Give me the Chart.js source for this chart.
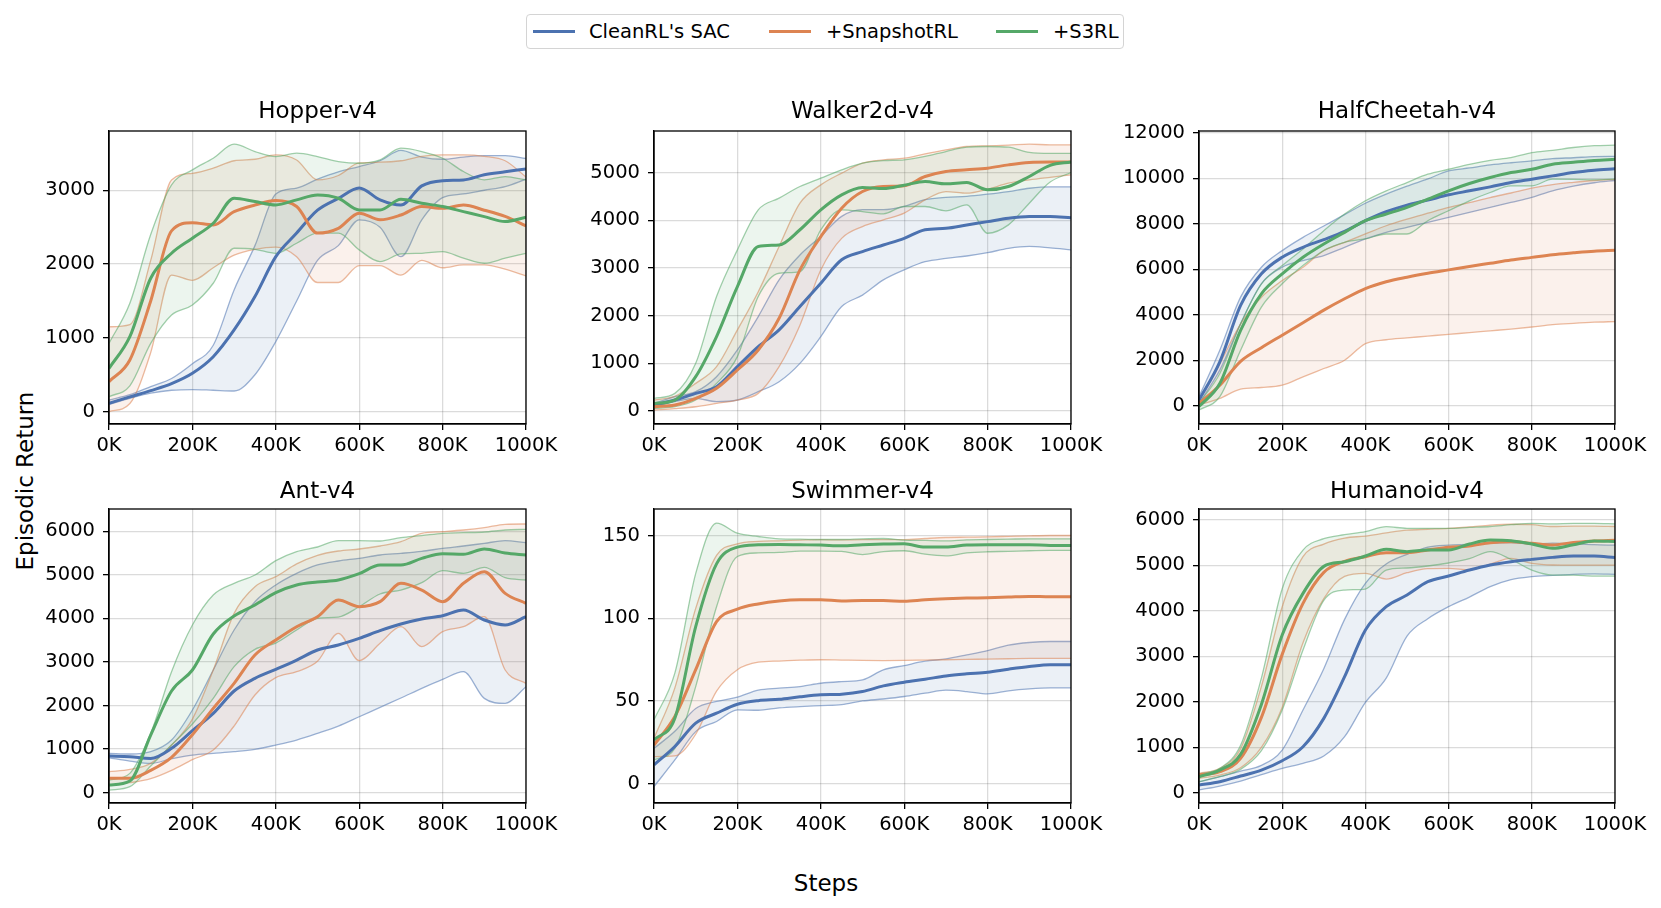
<!DOCTYPE html>
<html>
<head>
<meta charset="utf-8">
<title>Episodic return</title>
<script src="https://cdn.jsdelivr.net/npm/chart.js@4.4.1/dist/chart.umd.min.js"></script>
<style>
  body { margin: 0; background: #fff; font-family: "DejaVu Sans", sans-serif; }
  #fig { position: relative; width: 1661px; height: 908px; overflow: hidden; }
  .plot { position: absolute; }
  .title, .axlabel { position: absolute; font-size: 23px; color: #000; white-space: nowrap; transform: translate(-50%, -50%); }
  #ylabel { transform: translate(-50%, -50%) rotate(-90deg); }
  #legend { position: absolute; left: 526px; top: 14px; width: 596px; height: 33px; border: 1.5px solid #d4d4d4; border-radius: 4px; }
  #legend .swatch { position: absolute; top: 15px; width: 42px; height: 3px; }
  #legend .label { position: absolute; top: 5px; font-size: 19.5px; line-height: 23px; }
</style>
</head>
<body>
<div id="fig">
  <div id="legend"></div>
  <div class="axlabel" id="ylabel" style="left:25px; top:481px;">Episodic Return</div>
  <div class="axlabel" style="left:826px; top:883px;">Steps</div>
</div>
<script>
// x values (steps) shared by every curve
const steps = [0, 50000, 100000, 150000, 200000, 250000, 300000, 350000, 400000, 450000, 500000,
  550000, 600000, 650000, 700000, 750000, 800000, 850000, 900000, 950000, 1000000];
const xTicks = [0, 200000, 400000, 600000, 800000, 1000000];

const methods = ["CleanRL's SAC", "+SnapshotRL", "+S3RL"];

// Hopper-v4
const hopperTicks = [0, 1000, 2000, 3000];
const hopperSacMean = [113, 200, 285, 380, 520, 745, 1107, 1560, 2100, 2420, 2730, 2890, 3030, 2870, 2800, 3060, 3130, 3140, 3210, 3250, 3290];
const hopperSacHi = [158, 230, 340, 450, 650, 900, 1650, 2250, 2950, 3030, 3150, 3250, 3320, 3400, 3540, 3450, 3420, 3450, 3470, 3470, 3430];
const hopperSacLo = [100, 180, 250, 290, 300, 290, 280, 500, 950, 1500, 2050, 2250, 2600, 2500, 2100, 2600, 2900, 2950, 3000, 3050, 3150];
const hopperSnapMean = [407, 700, 1500, 2450, 2560, 2530, 2710, 2800, 2860, 2780, 2420, 2485, 2690, 2600, 2665, 2780, 2755, 2800, 2730, 2645, 2517];
const hopperSnapHi = [1150, 1180, 2050, 3140, 3230, 3300, 3400, 3420, 3480, 3410, 3140, 3200, 3370, 3380, 3400, 3460, 3480, 3480, 3460, 3400, 3180];
const hopperSnapLo = [0, 110, 800, 1850, 1780, 1950, 2120, 2200, 2230, 2100, 1750, 1750, 1980, 1980, 1850, 2050, 1950, 1990, 1990, 1930, 1840];
const hopperS3Mean = [587, 1017, 1808, 2146, 2350, 2553, 2892, 2847, 2802, 2870, 2937, 2892, 2734, 2734, 2878, 2824, 2779, 2711, 2643, 2576, 2634];
const hopperS3Hi = [926, 1470, 2400, 3073, 3276, 3434, 3624, 3525, 3457, 3502, 3457, 3389, 3366, 3412, 3570, 3525, 3434, 3254, 3140, 3186, 3140];
const hopperS3Lo = [203, 350, 926, 1310, 1446, 1740, 2214, 2200, 2146, 2282, 2418, 2418, 2192, 2033, 2137, 2146, 2169, 2079, 2011, 2079, 2146];

// Walker2d-v4
const walkerTicks = [0, 1000, 2000, 3000, 4000, 5000];
const walkerSacMean = [126, 230, 370, 510, 930, 1350, 1700, 2190, 2680, 3170, 3340, 3480, 3620, 3800, 3830, 3900, 3970, 4040, 4077, 4080, 4050];
const walkerSacHi = [160, 300, 405, 720, 1280, 1980, 2750, 3270, 3660, 4080, 4220, 4220, 4290, 4430, 4480, 4500, 4545, 4600, 4670, 4700, 4700];
const walkerSacLo = [90, 196, 266, 196, 231, 406, 615, 1000, 1560, 2190, 2430, 2750, 2960, 3130, 3200, 3250, 3320, 3410, 3450, 3420, 3380];
const walkerSnapMean = [90, 126, 266, 475, 860, 1280, 1944, 2958, 3657, 4252, 4601, 4706, 4720, 4916, 5021, 5056, 5091, 5160, 5210, 5220, 5220];
const walkerSnapHi = [230, 310, 580, 930, 1700, 2500, 3450, 4357, 4741, 4986, 5196, 5266, 5300, 5392, 5476, 5545, 5560, 5573, 5594, 5580, 5580];
const walkerSnapLo = [20, 50, 90, 160, 230, 370, 930, 1800, 2958, 3620, 3867, 4007, 4147, 4427, 4601, 4566, 4650, 4776, 4846, 4900, 4950];
const walkerS3Mean = [160, 230, 720, 1560, 2608, 3448, 3480, 3800, 4217, 4531, 4685, 4664, 4734, 4811, 4762, 4790, 4636, 4706, 4916, 5150, 5220];
const walkerS3Hi = [265, 370, 1000, 2400, 3378, 4217, 4462, 4706, 4881, 5056, 5196, 5250, 5266, 5336, 5440, 5530, 5545, 5530, 5420, 5400, 5400];
const walkerS3Lo = [55, 90, 230, 580, 1140, 2400, 2888, 2923, 3797, 4217, 4182, 4133, 4287, 4287, 4196, 4322, 3727, 3902, 4357, 4800, 5000];

// HalfCheetah-v4
const cheetahTicks = [0, 2000, 4000, 6000, 8000, 10000, 12000];
const cheetahSacMean = [248, 1927, 4409, 5796, 6526, 6964, 7299, 7664, 8131, 8525, 8818, 9036, 9270, 9445, 9620, 9810, 9956, 10102, 10250, 10350, 10420];
const cheetahSacHi = [400, 2438, 4774, 6088, 6818, 7401, 7900, 8400, 8900, 9300, 9650, 9970, 10321, 10450, 10584, 10680, 10759, 10861, 10900, 10950, 10960];
const cheetahSacLo = [100, 1562, 3606, 5358, 6088, 6380, 6599, 6964, 7329, 7620, 7839, 8058, 8277, 8496, 8715, 8934, 9153, 9445, 9650, 9800, 9900];
const cheetahSnapMean = [100, 900, 1950, 2550, 3100, 3650, 4200, 4700, 5150, 5450, 5650, 5820, 5970, 6120, 6260, 6400, 6520, 6640, 6720, 6790, 6830];
const cheetahSnapHi = [250, 1850, 3600, 4770, 5500, 6090, 6820, 7180, 7550, 7910, 8200, 8460, 8715, 8930, 9150, 9350, 9560, 9720, 9820, 9900, 9950];
const cheetahSnapLo = [30, 320, 730, 800, 900, 1270, 1635, 2000, 2730, 2900, 2980, 3060, 3140, 3210, 3290, 3370, 3460, 3560, 3620, 3670, 3700];
const cheetahS3Mean = [-40, 978, 3314, 4920, 5796, 6526, 7110, 7620, 8131, 8423, 8715, 9080, 9445, 9766, 10029, 10248, 10394, 10613, 10700, 10780, 10830];
const cheetahS3Hi = [100, 1416, 3606, 5358, 6161, 6891, 7693, 8423, 9007, 9445, 9810, 10175, 10394, 10613, 10788, 10905, 11124, 11226, 11350, 11430, 11450];
const cheetahS3Lo = [-190, 394, 2438, 4336, 5358, 6161, 6818, 7183, 7329, 7548, 7548, 8131, 8569, 9007, 9372, 9664, 9664, 9956, 9950, 9930, 9960];

// Ant-v4
const antTicks = [0, 1000, 2000, 3000, 4000, 5000, 6000];
const antSacMean = [842, 826, 788, 1018, 1423, 1821, 2334, 2624, 2831, 3045, 3275, 3390, 3542, 3718, 3871, 3986, 4063, 4193, 3963, 3848, 4040];
const antSacHi = [900, 888, 941, 1209, 1898, 2816, 3734, 4384, 4767, 5034, 5226, 5318, 5379, 5455, 5494, 5540, 5608, 5662, 5723, 5784, 5738];
const antSacLo = [800, 727, 673, 780, 865, 903, 941, 995, 1094, 1209, 1362, 1530, 1744, 1959, 2173, 2395, 2601, 2777, 2165, 2050, 2433];
const antSnapMean = [330, 330, 513, 811, 1331, 1936, 2510, 3160, 3504, 3810, 4040, 4420, 4270, 4384, 4805, 4652, 4384, 4805, 5073, 4575, 4346];
const antSnapHi = [482, 536, 673, 1094, 1690, 2816, 4116, 4728, 4958, 5250, 5448, 5547, 5593, 5662, 5761, 5953, 5991, 6029, 6083, 6160, 6167];
const antSnapLo = [176, 230, 321, 513, 758, 980, 1530, 2242, 2640, 2777, 3015, 3657, 3030, 3428, 3810, 3351, 3695, 3810, 4040, 2816, 2510];
const antS3Mean = [176, 268, 1324, 2334, 2816, 3642, 4055, 4308, 4591, 4767, 4835, 4881, 5027, 5226, 5226, 5379, 5486, 5471, 5593, 5501, 5455];
const antS3Hi = [290, 444, 1362, 2777, 3848, 4537, 4805, 4996, 5325, 5532, 5639, 5784, 5784, 5777, 5853, 5899, 5953, 5968, 5983, 6029, 6044];
const antS3Lo = [60, 138, 612, 1094, 1576, 2165, 2892, 3290, 3435, 3734, 4002, 4032, 4269, 4560, 4652, 4820, 5096, 5034, 5172, 4935, 4881];

// Swimmer-v4
const swimTicks = [0, 50, 100, 150];
const swimSacMean = [11.5, 22.6, 36.7, 42.7, 48.1, 50.3, 51.1, 52.6, 53.8, 54.2, 55.8, 59.2, 61.4, 63.2, 65.2, 66.5, 67.5, 69.3, 70.9, 72, 72];
const swimSacHi = [21.5, 31.8, 45.5, 49.8, 52.4, 56.6, 57.8, 58.8, 60.8, 61.8, 62.8, 68.9, 71.5, 74.1, 75.5, 77.9, 80.5, 83.8, 85.4, 86, 86];
const swimSacLo = [-1.6, 14.5, 31.6, 37.7, 44.7, 44.5, 45.9, 46.7, 47.3, 47.9, 50.1, 51.3, 52.8, 54.8, 56.6, 55.8, 54.4, 56.2, 57.4, 58, 58];
const swimSnapMean = [23.5, 40.7, 69, 98, 105.5, 108.7, 110.5, 111.2, 111.2, 110.5, 110.7, 110.7, 110.3, 111.2, 111.8, 112.2, 112.4, 112.8, 113.2, 113, 113];
const swimSnapHi = [27.6, 58, 106, 138, 145, 146.5, 146.8, 147.2, 147.5, 147.3, 147.5, 147.5, 147.5, 148.2, 148.8, 149, 149.2, 149.5, 149.8, 150, 150];
const swimSnapLo = [16.5, 16.9, 30, 56, 69, 73.5, 74.2, 74.7, 75, 74.8, 74.6, 74.5, 74.6, 74.8, 75, 75.2, 75.4, 75.6, 75.8, 75.8, 75.8];
const swimS3Mean = [26.6, 39.7, 95, 132.9, 143, 144.4, 144.6, 144.4, 144.2, 143.8, 144.4, 144.8, 145, 143, 143, 144.2, 144.4, 144.4, 144.4, 144, 144];
const swimS3Hi = [38.7, 66.9, 127, 157.5, 151.4, 149.4, 148, 147.8, 147.6, 147.6, 148, 148.2, 147.2, 147, 146.8, 147.4, 147.6, 147.8, 148, 148, 148];
const swimS3Lo = [14.5, 21.5, 58.8, 107, 137.3, 139.5, 139.8, 140.6, 140.6, 140.4, 138.5, 140.3, 140.8, 138.7, 137.7, 139.5, 140.2, 140.4, 140.8, 141, 141];

// Humanoid-v4
const humTicks = [0, 1000, 2000, 3000, 4000, 5000, 6000];
const humSacMean = [168, 242, 366, 498, 703, 1011, 1634, 2549, 3575, 4088, 4344, 4637, 4762, 4894, 5004, 5077, 5128, 5172, 5200, 5200, 5170];
const humSacHi = [242, 352, 476, 601, 938, 1817, 2725, 3810, 4601, 5026, 5238, 5399, 5443, 5458, 5480, 5495, 5465, 5487, 5470, 5450, 5440];
const humSacLo = [60, 147, 256, 396, 535, 645, 806, 1231, 1985, 2520, 3443, 3824, 4088, 4300, 4527, 4681, 4747, 4777, 4800, 4810, 4800];
const humSnapMean = [388, 462, 755, 1656, 3040, 4161, 4842, 5084, 5187, 5275, 5275, 5333, 5392, 5421, 5495, 5516, 5480, 5443, 5500, 5530, 5550];
const humSnapHi = [425, 535, 967, 2337, 4088, 5187, 5465, 5597, 5640, 5710, 5770, 5790, 5810, 5840, 5880, 5900, 5890, 5850, 5860, 5860, 5850];
const humSnapLo = [315, 388, 549, 996, 1875, 3297, 4264, 4755, 4821, 4696, 4835, 4923, 4930, 4894, 5026, 5150, 5040, 5004, 5000, 5000, 5000];
const humS3Mean = [352, 498, 842, 1941, 3465, 4381, 4974, 5077, 5201, 5348, 5297, 5333, 5333, 5465, 5553, 5538, 5465, 5370, 5450, 5530, 5520];
const humS3Hi = [410, 535, 1040, 2520, 4484, 5333, 5582, 5670, 5736, 5846, 5810, 5810, 5810, 5830, 5850, 5890, 5920, 5910, 5920, 5920, 5910];
const humS3Lo = [240, 352, 513, 923, 1817, 3136, 4227, 4454, 4476, 4894, 4938, 4982, 5048, 5143, 5297, 5128, 4894, 4784, 4780, 4760, 4760];

// ---- styling / layout ----
const lineColors = ['#4c72b0', '#dd8452', '#55a868'];
const edgeColors = ['rgba(76,114,176,0.55)', 'rgba(221,132,82,0.55)', 'rgba(85,168,104,0.55)'];
const fillColors = ['rgba(76,114,176,0.11)', 'rgba(221,132,82,0.11)', 'rgba(85,168,104,0.11)'];

const colLeft = [109, 654, 1199];
const colWidth = [417, 417, 416];
const rowTop = [131, 509];
const rowHeight = [293, 294];
const titleY = [110, 490];

const panels = [
  { title: 'Hopper-v4', row: 0, col: 0, yMin: -167, yMax: 3803, yTicks: hopperTicks,
    series: [[hopperSacMean, hopperSacHi, hopperSacLo], [hopperSnapMean, hopperSnapHi, hopperSnapLo], [hopperS3Mean, hopperS3Hi, hopperS3Lo]] },
  { title: 'Walker2d-v4', row: 0, col: 1, yMin: -272, yMax: 5870, yTicks: walkerTicks,
    series: [[walkerSacMean, walkerSacHi, walkerSacLo], [walkerSnapMean, walkerSnapHi, walkerSnapLo], [walkerS3Mean, walkerS3Hi, walkerS3Lo]] },
  { title: 'HalfCheetah-v4', row: 0, col: 2, yMin: -804, yMax: 12075, yTicks: cheetahTicks,
    series: [[cheetahSacMean, cheetahSacHi, cheetahSacLo], [cheetahSnapMean, cheetahSnapHi, cheetahSnapLo], [cheetahS3Mean, cheetahS3Hi, cheetahS3Lo]] },
  { title: 'Ant-v4', row: 1, col: 0, yMin: -236, yMax: 6511, yTicks: antTicks,
    series: [[antSacMean, antSacHi, antSacLo], [antSnapMean, antSnapHi, antSnapLo], [antS3Mean, antS3Hi, antS3Lo]] },
  { title: 'Swimmer-v4', row: 1, col: 1, yMin: -11.5, yMax: 166, yTicks: swimTicks,
    series: [[swimSacMean, swimSacHi, swimSacLo], [swimSnapMean, swimSnapHi, swimSnapLo], [swimS3Mean, swimS3Hi, swimS3Lo]] },
  { title: 'Humanoid-v4', row: 1, col: 2, yMin: -226, yMax: 6235, yTicks: humTicks,
    series: [[humSacMean, humSacHi, humSacLo], [humSnapMean, humSnapHi, humSnapLo], [humS3Mean, humS3Hi, humS3Lo]] }
];

Chart.defaults.font.family = '"DejaVu Sans", sans-serif';
Chart.defaults.font.size = 19.5;
Chart.defaults.color = '#000';

// box around the axes like matplotlib spines
const framePlugin = {
  id: 'frame',
  afterDraw(chart) {
    const a = chart.chartArea, ctx = chart.ctx;
    ctx.save();
    ctx.strokeStyle = '#000';
    ctx.lineWidth = 1.3;
    ctx.strokeRect(a.left, a.top, a.right - a.left, a.bottom - a.top);
    ctx.restore();
  }
};

const fig = document.getElementById('fig');
const padL = 100, padT = 20, padR = 40, padB = 50;

function toPoints(values) {
  return steps.map((s, k) => ({ x: s, y: values[k] }));
}

panels.forEach(function (p) {
  const axLeft = colLeft[p.col], axTop = rowTop[p.row];
  const w = colWidth[p.col], h = rowHeight[p.row];

  const canvas = document.createElement('canvas');
  canvas.className = 'plot';
  canvas.style.left = (axLeft - padL) + 'px';
  canvas.style.top = (axTop - padT) + 'px';
  canvas.style.width = (w + padL + padR) + 'px';
  canvas.style.height = (h + padT + padB) + 'px';
  canvas.width = w + padL + padR;
  canvas.height = h + padT + padB;
  fig.appendChild(canvas);

  const title = document.createElement('div');
  title.className = 'title';
  title.textContent = p.title;
  title.style.left = (axLeft + w / 2) + 'px';
  title.style.top = titleY[p.row] + 'px';
  fig.appendChild(title);

  const datasets = [];
  p.series.forEach(function (s, i) {
    const [mean, hi, lo] = s;
    datasets.push({
      label: methods[i] + ' upper', data: toPoints(hi), fill: '+1',
      backgroundColor: fillColors[i], borderColor: edgeColors[i], borderWidth: 1.3,
      pointRadius: 0, cubicInterpolationMode: 'monotone', order: 5 - i
    });
    datasets.push({
      label: methods[i] + ' lower', data: toPoints(lo), fill: false,
      borderColor: edgeColors[i], borderWidth: 1.3,
      pointRadius: 0, cubicInterpolationMode: 'monotone', order: 5 - i
    });
    datasets.push({
      label: methods[i], data: toPoints(mean), fill: false,
      borderColor: lineColors[i], borderWidth: 3,
      pointRadius: 0, cubicInterpolationMode: 'monotone', order: 2 - i
    });
  });

  new Chart(canvas, {
    type: 'line',
    data: { datasets: datasets },
    options: {
      responsive: false,
      animation: false,
      layout: { padding: { left: 0, top: padT, right: padR, bottom: 0 } },
      plugins: { legend: { display: false }, tooltip: { enabled: false } },
      scales: {
        x: {
          type: 'linear', min: 0, max: 1000000,
          afterBuildTicks: (axis) => { axis.ticks = xTicks.map(v => ({ value: v })); },
          afterFit: (scale) => { scale.height = padB; },
          ticks: { maxRotation: 0, autoSkip: false, padding: 4, callback: v => (v / 1000) + 'K' },
          grid: { color: 'rgba(0,0,0,0.14)', lineWidth: 1.3, tickColor: '#000', tickLength: 6, tickWidth: 1.3 },
          border: { color: '#000', width: 1.3 }
        },
        y: {
          type: 'linear', min: p.yMin, max: p.yMax,
          afterBuildTicks: (axis) => { axis.ticks = p.yTicks.map(v => ({ value: v })); },
          afterFit: (scale) => { scale.width = padL; },
          ticks: { padding: 8, autoSkip: false, callback: v => String(v) },
          grid: { color: 'rgba(0,0,0,0.14)', lineWidth: 1.3, tickColor: '#000', tickLength: 6, tickWidth: 1.3 },
          border: { color: '#000', width: 1.3 }
        }
      }
    },
    plugins: [framePlugin]
  });
});

// legend at the top
const legend = document.getElementById('legend');
const swatchX = [6, 242, 469];
const labelX = [62, 299, 526];
methods.forEach(function (m, i) {
  const sw = document.createElement('div');
  sw.className = 'swatch';
  sw.style.left = swatchX[i] + 'px';
  sw.style.background = lineColors[i];
  legend.appendChild(sw);
  const lb = document.createElement('div');
  lb.className = 'label';
  lb.style.left = labelX[i] + 'px';
  lb.textContent = m;
  legend.appendChild(lb);
});
</script>
</body>
</html>
